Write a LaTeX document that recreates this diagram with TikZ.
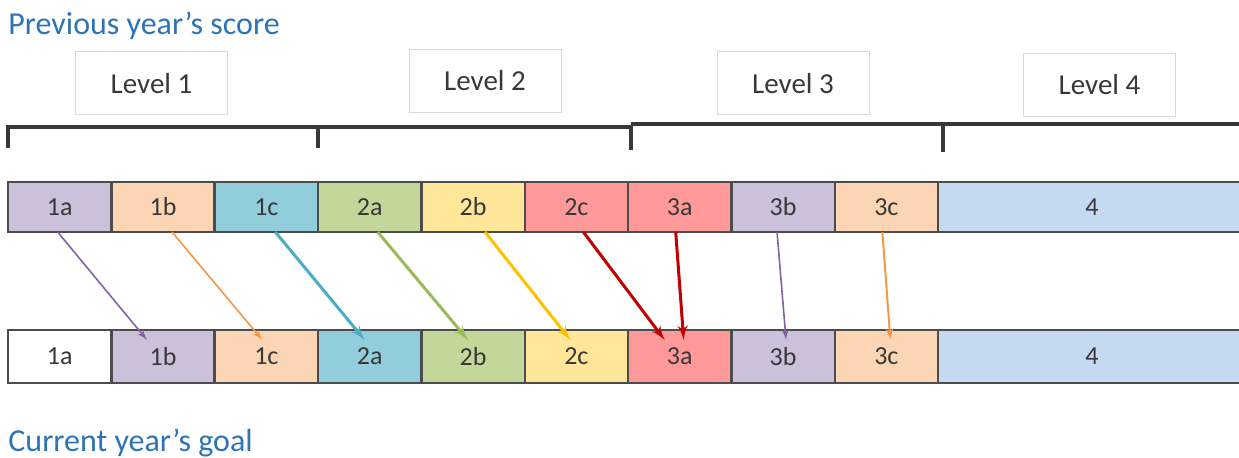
\documentclass[tikz,border=0pt]{standalone}
\usepackage{fontspec}
\setmainfont{Carlito}
\usepackage{tikz}
\usetikzlibrary{arrows,positioning}
\definecolor{lav}{HTML}{CCC0DA}
\definecolor{peach}{HTML}{FCD5B4}
\definecolor{aqua}{HTML}{92CDDC}
\definecolor{sage}{HTML}{C4D79B}
\definecolor{butter}{HTML}{FFE699}
\definecolor{rose}{HTML}{FF9999}
\definecolor{sky}{HTML}{C5D9F1}
\definecolor{headblue}{HTML}{2E74B5}
\definecolor{arpurple}{HTML}{8064A2}
\definecolor{arorange}{HTML}{F79646}
\definecolor{araqua}{HTML}{4BACC6}
\definecolor{argreen}{HTML}{9BBB59}
\definecolor{argold}{HTML}{FFC000}
\definecolor{arred}{HTML}{C00000}
\tikzset{cell/.style={draw=black!70, line width=1.2pt, minimum width=51.67pt,
    minimum height=25pt, inner sep=0pt, outer sep=0pt, text=black!78,
    font=\fontsize{13}{15}\selectfont}}
\tikzset{levelbox/.style={draw=black!15, line width=.5pt, minimum height=31.5pt,
    minimum width=76pt, text=black!78, font=\fontsize{14.5}{17}\selectfont}}
\tikzset{heading/.style={anchor=base west, inner sep=0pt, text=headblue,
    font=\fontsize{16}{19}\selectfont}}
\tikzset{brace/.style={draw=black!78, line width=1.6pt}}

\begin{document}
\begin{tikzpicture}[x=.5pt,y=-.5pt]
  \useasboundingbox (0,0) rectangle (1239,458);

  \node[heading] (prev) at (8,35) {Previous year’s score};
  \node[heading] (curr) at (8,452) {Current year’s goal};

  \node[levelbox] (lev1) at (151.5,83.5) {Level 1};
  \node[levelbox] (lev2) at (485,81) {Level 2};
  \node[levelbox] (lev3) at (793,83.5) {Level 3};
  \node[levelbox] (lev4) at (1099.5,85) {Level 4};

  % brackets under the levels
  \draw[brace] (8,148) -- (8,127) -- (318,127) -- (318,148);
  \draw[brace] (318,127) -- (631,127) -- (631,150);
  \draw[brace] (631,124) -- (943,124) -- (943,152);
  \draw[brace] (943,124) -- (1245,124);

  % previous year
  \node[cell, fill=lav, anchor=west] (p1a) at (8,207) {1a};
  \node[cell, fill=peach, right=0pt of p1a] (p1b) {1b};
  \node[cell, fill=aqua, right=0pt of p1b] (p1c) {1c};
  \node[cell, fill=sage, right=0pt of p1c] (p2a) {2a};
  \node[cell, fill=butter, right=0pt of p2a] (p2b) {2b};
  \node[cell, fill=rose, right=0pt of p2b] (p2c) {2c};
  \node[cell, fill=rose, right=0pt of p2c] (p3a) {3a};
  \node[cell, fill=lav, right=0pt of p3a] (p3b) {3b};
  \node[cell, fill=peach, right=0pt of p3b] (p3c) {3c};
  \node[cell, fill=sky, minimum width=154pt, right=0pt of p3c] (p4) {4};

  % current year
  \node[cell, fill=white, minimum height=26.5pt, anchor=west] (c1a) at (8,356.5) {1a};
  \node[cell, fill=lav, minimum height=26.5pt, right=0pt of c1a] (c1b) {1b};
  \node[cell, fill=peach, minimum height=26.5pt, right=0pt of c1b] (c1c) {1c};
  \node[cell, fill=aqua, minimum height=26.5pt, right=0pt of c1c] (c2a) {2a};
  \node[cell, fill=sage, minimum height=26.5pt, right=0pt of c2a] (c2b) {2b};
  \node[cell, fill=butter, minimum height=26.5pt, right=0pt of c2b] (c2c) {2c};
  \node[cell, fill=rose, minimum height=26.5pt, right=0pt of c2c] (c3a) {3a};
  \node[cell, fill=lav, minimum height=26.5pt, right=0pt of c3a] (c3b) {3b};
  \node[cell, fill=peach, minimum height=26.5pt, right=0pt of c3b] (c3c) {3c};
  \node[cell, fill=sky, minimum height=26.5pt, minimum width=154pt, right=0pt of c3c] (c4) {4};

  \draw[-latex', arpurple, line width=.8pt] ([xshift=-1pt]p1a.south) -- ([xshift=-8pt,yshift=-5pt]c1b.north);
  \draw[-latex', arorange, line width=.8pt] ([xshift=4.5pt]p1b.south) -- ([xshift=-2pt,yshift=-5pt]c1c.north);
  \draw[-latex', araqua, line width=1.5pt] ([xshift=4.5pt]p1c.south) -- ([xshift=-2.5pt,yshift=-5pt]c2a.north);
  \draw[-latex', argreen, line width=1.5pt] ([xshift=4pt]p2a.south) -- ([xshift=-2.5pt,yshift=-5pt]c2b.north);
  \draw[-latex', argold, line width=1.5pt] ([xshift=6pt]p2b.south) -- ([xshift=-3pt,yshift=-5pt]c2c.north);
  \draw[-latex', arred, line width=1.5pt] ([xshift=3.5pt]p2c.south) -- ([xshift=-7.5pt,yshift=-5pt]c3a.north);
  \draw[-latex', arred, line width=1.5pt] ([xshift=-2pt]p3a.south) -- ([xshift=2pt,yshift=-5pt]c3a.north);
  \draw[-latex', arpurple, line width=.8pt] ([xshift=-3pt]p3b.south) -- ([xshift=1.5pt,yshift=-5pt]c3b.north);
  \draw[-latex', arorange, line width=1pt] ([xshift=-2pt]p3c.south) -- ([xshift=2pt,yshift=-5pt]c3c.north);

\end{tikzpicture}
\end{document}
